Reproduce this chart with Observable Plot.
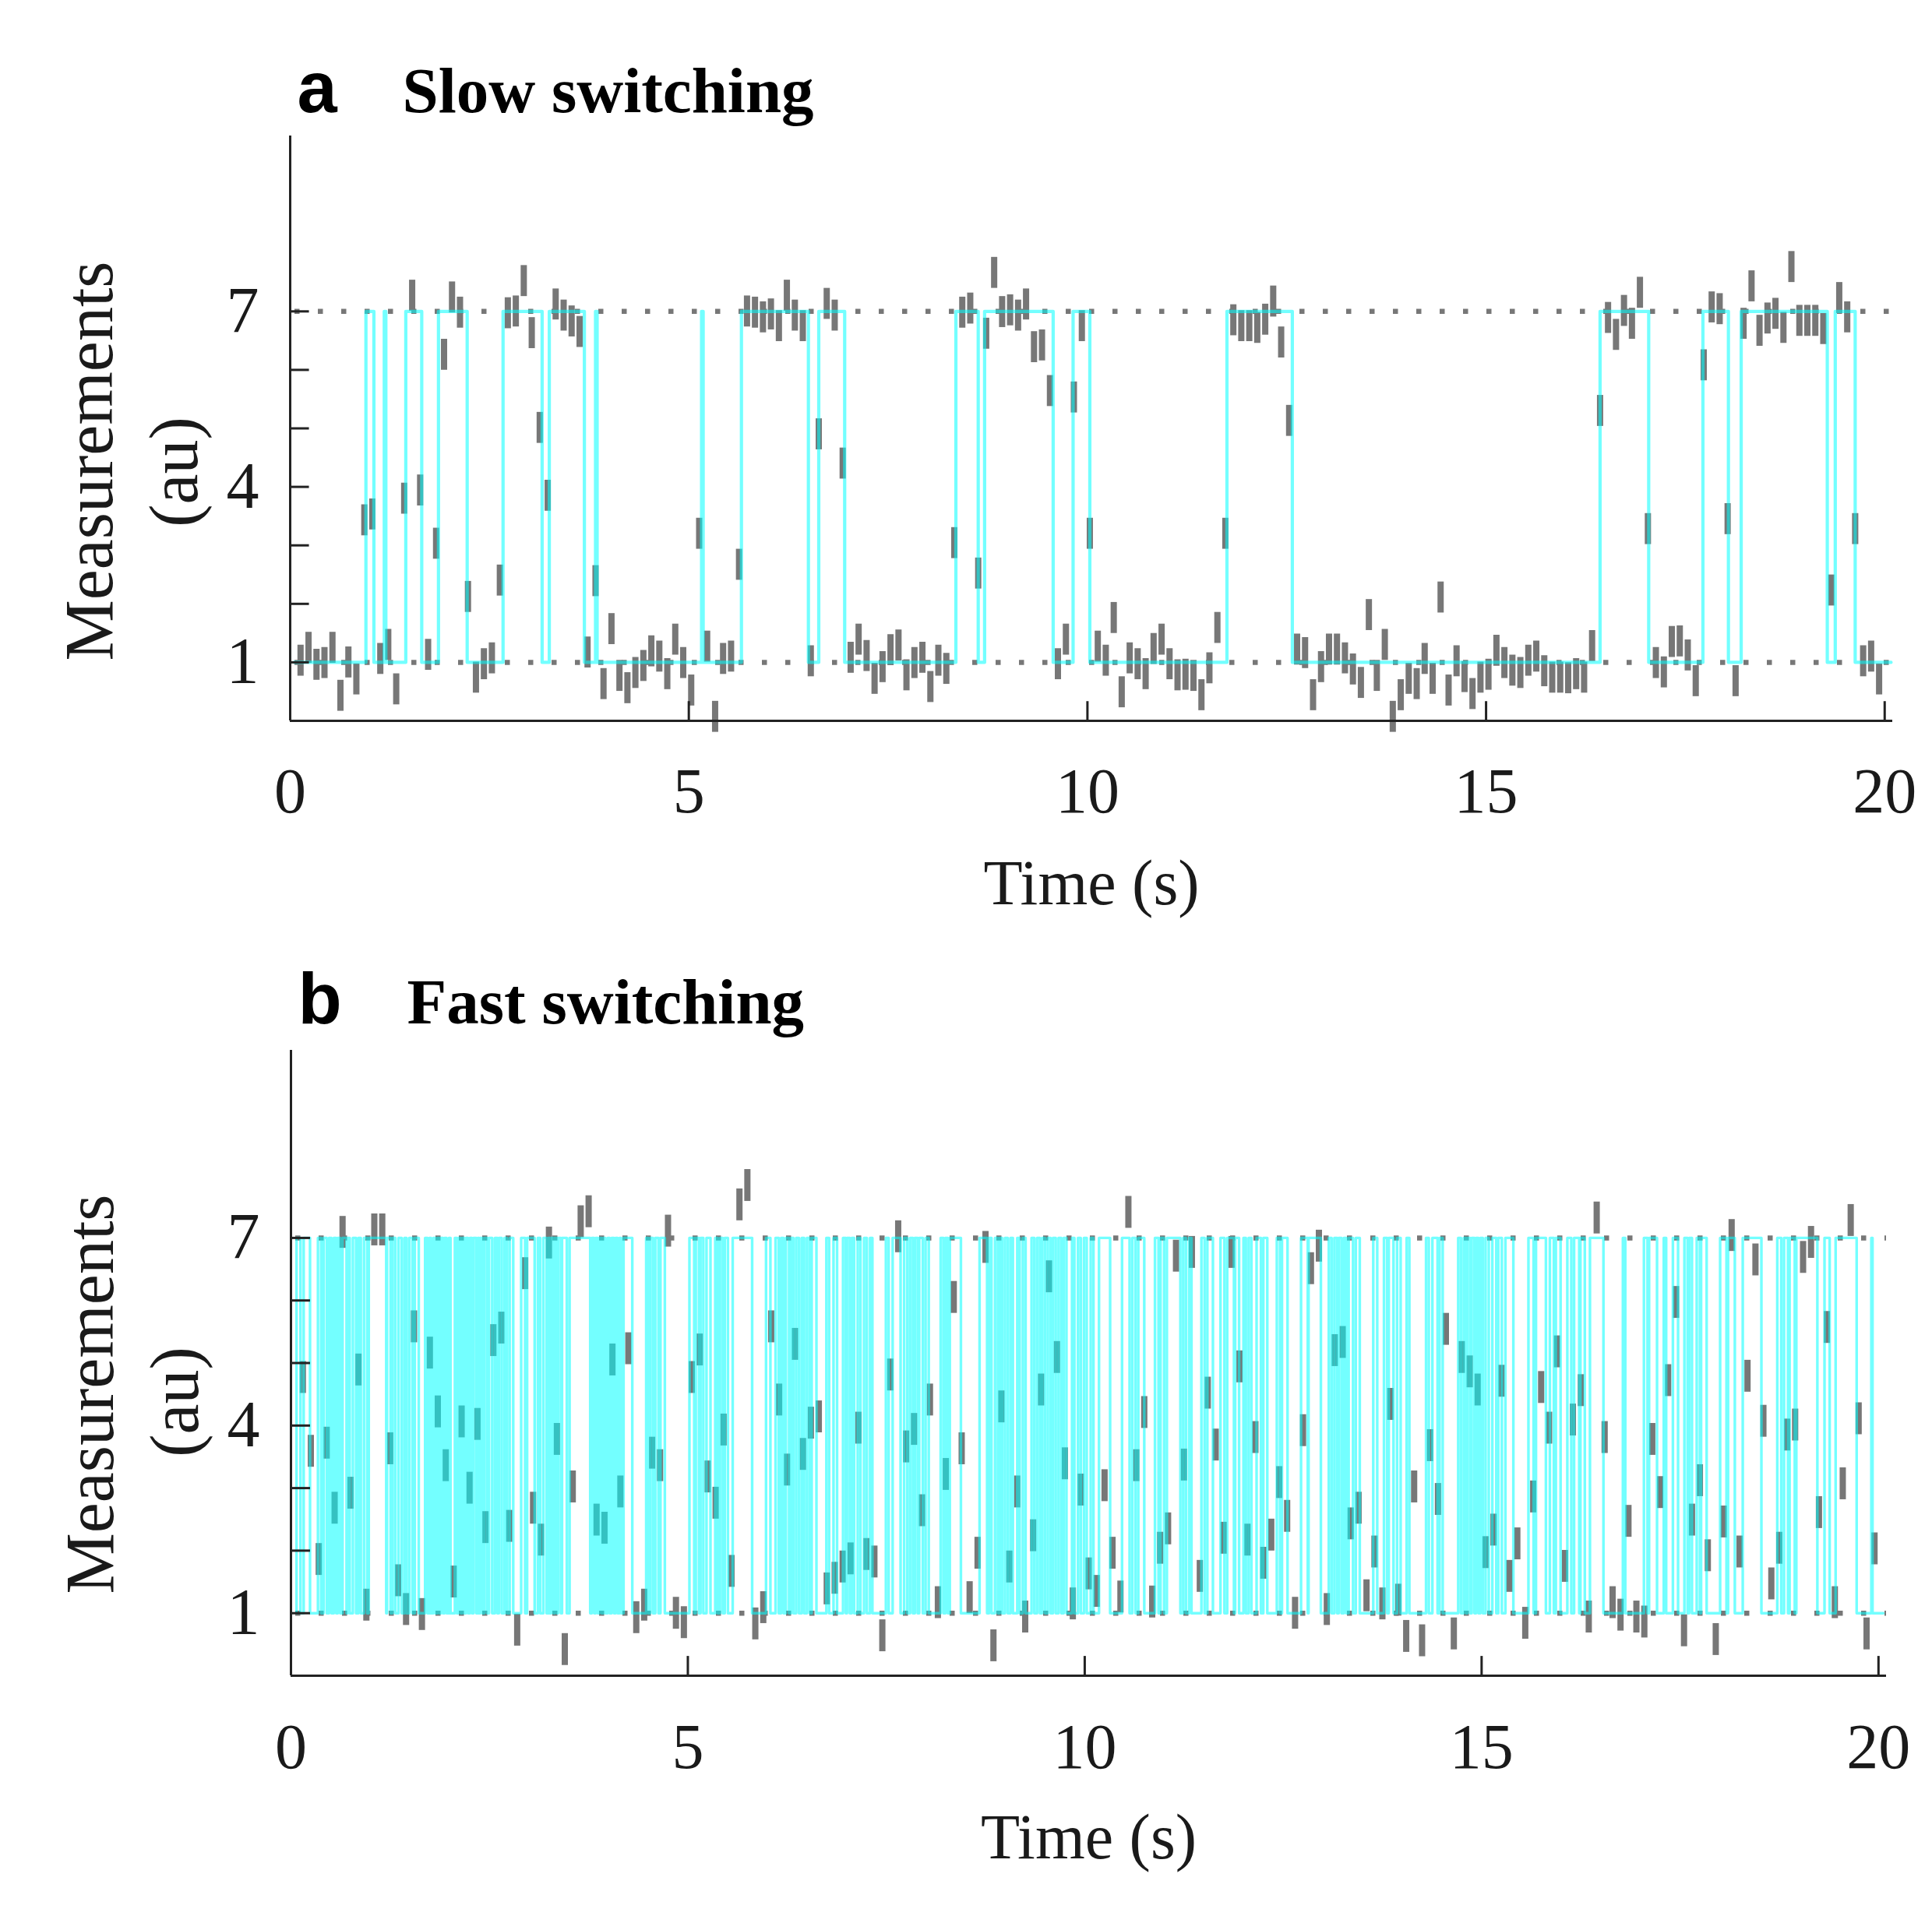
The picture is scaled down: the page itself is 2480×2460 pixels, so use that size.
<!DOCTYPE html>
<html>
<head>
<meta charset="utf-8">
<script src="https://cdn.jsdelivr.net/npm/d3@7"></script>
<script src="https://cdn.jsdelivr.net/npm/@observablehq/plot@0.6"></script>
<style>
  html, body { margin: 0; padding: 0; background: #ffffff; }
  #root { position: relative; width: 2480px; height: 2460px; background: #ffffff; overflow: hidden; }
  #root svg { position: absolute; left: 0; }
</style>
</head>
<body>
<div id="root"></div>
<script>
// ---------- shared ticks / levels ----------
const xTicks = [0, 5, 10, 15, 20];
const yTicks = [1, 2, 3, 4, 5, 6, 7];
const yTickLabels = [1, 4, 7];
const stateLevels = [1, 7];
const sampleStep = 0.1;          // s between measurements

// ---------- panel a : slow switching ----------
const titleA = "Slow switching";
const letterA = "a";
const firstTimeA = 0.13;
const measA = [
  1.03, 1.25, 0.96, 0.99, 1.25, 0.43, 1.00, 0.71, 3.43, 3.53,
  1.06, 1.30, 0.54, 3.80, 7.27, 3.94, 1.13, 3.03, 6.26, 7.24,
  6.98, 2.12, 0.74, 0.97, 1.07, 2.40, 6.97, 7.00, 7.52, 6.63,
  5.01, 3.85, 7.12, 6.93, 6.83, 6.65, 1.17, 2.39, 0.63, 1.57,
  0.77, 0.56, 0.82, 0.94, 1.19, 1.10, 0.80, 1.39, 0.99, 0.52,
  3.20, 1.27, 0.07, 1.06, 1.10, 2.67, 7.00, 6.98, 6.90, 6.95,
  6.75, 7.27, 6.93, 6.75, 1.02, 4.90, 7.13, 6.93, 4.40, 1.08,
  1.39, 1.11, 0.72, 0.92, 1.21, 1.29, 0.78, 0.99, 1.08, 0.58,
  1.03, 0.89, 3.04, 6.98, 7.05, 2.52, 6.62, 7.66, 6.99, 7.02,
  6.93, 7.12, 6.39, 6.42, 5.64, 0.97, 1.39, 5.53, 6.75, 3.20,
  1.27, 1.03, 1.76, 0.49, 1.07, 0.97, 0.80, 1.23, 1.39, 0.97,
  0.78, 0.79, 0.77, 0.44, 0.90, 1.59, 3.20, 6.85, 6.75, 6.75,
  6.72, 6.86, 7.17, 6.47, 5.13, 1.22, 1.16, 0.44, 0.92, 1.22,
  1.22, 1.07, 0.88, 0.65, 1.81, 0.77, 1.30, 0.07, 0.44, 0.72,
  0.63, 1.06, 0.72, 2.11, 0.52, 1.02, 0.75, 0.46, 0.74, 0.79,
  1.20, 0.99, 0.86, 0.82, 1.03, 1.10, 0.85, 0.74, 0.74, 0.73,
  0.80, 0.74, 1.28, 5.30, 6.89, 6.60, 7.01, 6.79, 7.32, 3.28,
  0.99, 0.83, 1.35, 1.36, 1.12, 0.68, 6.08, 7.07, 7.04, 3.45,
  0.68, 6.79, 7.43, 6.67, 6.88, 6.96, 6.72, 7.76, 6.84, 6.84,
  6.84, 6.70, 2.23, 7.23, 6.90, 3.28, 1.02, 1.10, 0.71
];
// fitted state path: starts in state 1, toggles 1 <-> 7 at each time
const stateStartA = 0.05, stateEndA = 20.08;
const switchTimesA = [
  0.95, 1.05, 1.18, 1.20, 1.45, 1.65, 1.86, 2.22, 2.67, 3.16,
  3.25, 3.69, 3.83, 3.85, 5.16, 5.18, 5.66, 6.50, 6.63, 6.955,
  8.35, 8.63, 8.71, 9.57, 9.82, 10.03, 11.75, 12.57, 16.43, 17.04,
  17.72, 18.04, 18.20, 19.28, 19.38, 19.63
];

// ---------- panel b : fast switching ----------
const titleB = "Fast switching";
const letterB = "b";
const firstTimeB = 0.15;
const measB = [
  4.77, 3.59, 1.86, 3.72, 2.68, 7.09, 2.92, 4.89, 1.13, 7.13,
  7.13, 3.63, 1.52, 1.06, 5.58, 0.98, 5.16, 4.22, 3.36, 1.50,
  4.06, 3.00, 4.02, 2.37, 5.36, 5.56, 2.39, 0.73, 6.43, 2.68,
  2.17, 6.92, 3.78, 0.42, 3.02, 7.26, 7.42, 2.49, 2.36, 5.05,
  2.94, 5.23, 0.93, 1.13, 3.56, 3.36, 7.11, 1.00, 0.85, 4.77,
  5.21, 3.18, 2.76, 3.93, 1.67, 7.53, 7.84, 0.83, 1.09, 5.58,
  4.41, 3.29, 5.30, 3.54, 4.04, 4.14, 1.39, 1.56, 1.74, 1.87,
  3.96, 1.94, 1.82, 0.64, 4.81, 7.02, 3.66, 3.94, 2.64, 4.41,
  1.17, 3.22, 6.05, 3.63, 1.25, 1.96, 6.85, 0.48, 4.30, 1.74,
  2.94, 0.94, 2.24, 4.57, 6.38, 5.09, 3.39, 1.15, 2.97, 1.63,
  1.35, 3.04, 1.96, 1.26, 7.41, 3.36, 4.21, 1.18, 2.04, 2.35,
  6.71, 3.37, 6.77, 1.59, 4.52, 3.69, 2.20, 6.77, 4.94, 2.17,
  3.81, 1.80, 2.25, 3.09, 2.55, 1.00, 3.92, 6.51, 6.87, 1.06,
  5.20, 5.33, 2.43, 2.68, 1.28, 1.98, 1.15, 4.34, 1.21, 0.63,
  3.02, 0.56, 3.68, 2.82, 5.54, 0.67, 5.09, 4.86, 4.57, 1.97,
  2.33, 4.71, 1.59, 2.11, 0.84, 2.86, 4.61, 3.96, 5.18, 1.75,
  4.09, 4.56, 0.94, 7.32, 3.81, 1.17, 0.97, 2.47, 0.94, 0.86,
  3.78, 2.93, 4.72, 5.97, 0.72, 2.49, 3.12, 1.92, 0.58, 2.46,
  7.04, 1.98, 4.79, 6.65, 4.07, 1.47, 2.04, 3.85, 4.01, 6.69,
  6.93, 2.61, 5.57, 1.17, 3.07, 7.28, 4.11, 0.67, 2.03
];
const stateStartB = 0.07, stateEndB = 20.06;
const switchTimesB = [
  0.07,0.12, 0.16,0.24, 0.34,0.38, 0.41,0.45, 0.48,0.51, 0.54,0.57, 0.59,0.62, 0.65,0.70,
  0.715,0.74, 0.78,0.82, 0.85,0.88, 0.92,0.96, 0.98,1.20, 1.21,1.255, 1.28,1.315, 1.355,1.395,
  1.43,1.455, 1.49,1.53, 1.56,1.61, 1.69,1.72, 1.745,1.765, 1.795,1.82, 1.845,1.87, 1.89,1.915,
  1.935,1.96, 1.99,2.01, 2.065,2.09, 2.11,2.14, 2.16,2.185, 2.205,2.23, 2.255,2.28, 2.30,2.335,
  2.355,2.37, 2.385,2.41, 2.435,2.47, 2.495,2.535, 2.57,2.60, 2.62,2.655, 2.69,2.72, 2.755,2.80,
  2.90,2.95, 2.975,3.07, 3.11,3.14, 3.18,3.22, 3.245,3.265, 3.28,3.31, 3.32,3.35, 3.365,3.40,
  3.415,3.475, 3.51,3.77, 3.79,3.82, 3.84,3.865, 3.885,3.915, 3.935,3.96, 3.99,4.015, 4.04,4.07,
  4.09,4.115, 4.14,4.16, 4.19,4.30, 4.475,4.50, 4.525,4.56, 4.59,4.63, 4.655,4.71, 5.02,5.08,
  5.10,5.14, 5.16,5.195, 5.235,5.285, 5.345,5.375, 5.405,5.44, 5.465,5.505, 5.565,5.81, 5.985,6.04,
  6.105,6.145, 6.175,6.205, 6.235,6.275, 6.30,6.33, 6.365,6.40, 6.435,6.465, 6.50,6.535, 6.56,6.62,
  6.745,6.78, 6.835,6.88, 6.955,6.99, 7.005,7.04, 7.065,7.095, 7.14,7.175, 7.22,7.255, 7.295,7.325,
  7.495,7.53, 7.58,7.68, 7.725,7.765, 7.80,7.835, 7.86,7.895, 7.915,7.96, 7.995,8.035, 8.185,8.22,
  8.245,8.275, 8.30,8.44, 8.675,8.77, 8.795,8.825, 8.87,8.905, 8.93,8.96, 8.995,9.03, 9.065,9.095,
  9.15,9.18, 9.22,9.255, 9.33,9.365, 9.40,9.435, 9.465,9.50, 9.535,9.57, 9.60,9.635, 9.67,9.705,
  9.735,9.77, 9.84,9.87, 9.915,9.95, 9.99,10.025, 10.075,10.11, 10.18,10.32, 10.47,10.565, 10.60,10.64,
  10.675,10.75, 10.885,10.93, 10.955,11.00, 11.035,11.205, 11.24,11.275, 11.315,11.345, 11.47,11.51, 11.545,11.615,
  11.71,11.76, 11.795,11.88, 11.895,11.945, 12.00,12.03, 12.065,12.10, 12.165,12.22, 12.25,12.30, 12.42,12.46,
  12.485,12.555, 12.725,12.81, 12.82,12.975, 13.075,13.11, 13.145,13.18, 13.20,13.235, 13.265,13.295, 13.325,13.38,
  13.415,13.465, 13.635,13.685, 13.77,13.81, 13.83,13.89, 13.935,13.98, 14.055,14.09, 14.30,14.335, 14.38,14.445,
  14.47,14.51, 14.705,14.74, 14.775,14.805, 14.82,14.855, 14.875,14.91, 14.93,14.96, 14.985,15.015, 15.05,15.09,
  15.135,15.185, 15.21,15.255, 15.30,15.40, 15.59,15.655, 15.685,15.81, 15.86,15.91, 15.935,15.995, 16.08,16.13,
  16.165,16.23, 16.245,16.30, 16.365,16.535, 16.78,16.81, 17.045,17.09, 17.11,17.21, 17.295,17.325, 17.41,17.475,
  17.555,17.595, 17.615,17.65, 17.71,17.75, 17.765,17.835, 18.005,18.085, 18.105,18.19, 18.29,18.525, 18.725,18.775,
  18.81,18.86, 18.88,18.945, 18.965,19.23, 19.32,19.385, 19.46,19.725, 19.91,19.925
];

// ---------- helpers ----------
function statePath(start, end, switches) {
  let s = 1;
  const pts = [{t: start, v: s}];
  for (const x of switches) { s = (s === 1 ? 7 : 1); pts.push({t: x, v: s}); }
  pts.push({t: end, v: s});
  return pts;
}

const SERIF = "'Liberation Serif', 'Times New Roman', Times, serif";
const SANS = "'Liberation Sans', Arial, Helvetica, sans-serif";
const INK = "#1a1a1a";

function panel(o) {
  const meas = o.meas.map((v, i) => ({t: o.firstTime + i * sampleStep, v}));
  const path = statePath(o.stateStart, o.stateEnd, o.switches);
  return Plot.plot({
    width: 2480,
    height: o.height,
    marginTop: o.mT, marginBottom: o.mB, marginLeft: o.mL, marginRight: o.mR,
    x: {domain: [0, 20.1], axis: null},
    y: {domain: [0, 10], axis: null},
    style: {background: "#ffffff", fontFamily: SERIF, color: INK, overflow: "visible"},
    marks: [
      // dotted state levels
      Plot.ruleY(stateLevels, {stroke: "#777777", strokeWidth: 6.5, strokeDasharray: "6.5,23.5", strokeDashoffset: 24}),
      // measurements
      Plot.ruleX(meas, {x: "t", y1: d => d.v - o.half, y2: d => d.v + o.half, stroke: "#777777", strokeWidth: 8}),
      // inferred state trajectory
      Plot.line(path, {x: "t", y: "v", curve: "step-after", stroke: "#00ffff", strokeOpacity: 0.55, strokeWidth: o.cyanW}),
      // axes
      Plot.ruleY([0], {stroke: "#222", strokeWidth: 3}),
      Plot.ruleX([0], {stroke: "#222", strokeWidth: 3}),
      Plot.ruleX(xTicks, {y1: 0, y2: o.xTickLen, stroke: "#222", strokeWidth: 3}),
      Plot.ruleY(yTicks, {x1: 0, x2: o.yTickLen, stroke: "#222", strokeWidth: 3}),
      Plot.text(xTicks, {x: d => d, text: d => String(d), frameAnchor: "bottom", dy: o.xLabDy, lineAnchor: "middle", textAnchor: "middle", fontSize: 82, fill: INK}),
      Plot.text(yTickLabels, {y: d => d, text: d => String(d), frameAnchor: "left", dx: -40, textAnchor: "end", lineAnchor: "middle", fontSize: 84, fill: INK}),
      Plot.text(["Time (s)"], {text: d => d, frameAnchor: "bottom", dy: o.xTitleDy, lineAnchor: "bottom", textAnchor: "middle", fontSize: 82, fill: INK}),
      Plot.text(["Measurements"], {text: d => d, frameAnchor: "left", rotate: -90, dx: -229, dy: o.measDy, lineAnchor: "bottom", textAnchor: "middle", fontSize: 88, fill: INK}),
      Plot.text(["(au)"], {text: d => d, frameAnchor: "left", rotate: -90, dx: -120, dy: o.auDy, lineAnchor: "bottom", textAnchor: "middle", fontSize: 88, fill: INK}),
      // panel title
      Plot.text([o.letter], {text: d => d, frameAnchor: "top-left", dx: 9, dy: o.titleDy, lineAnchor: "bottom", textAnchor: "start", fontSize: 92, fontWeight: "bold", fontFamily: SANS, fill: "#000"}),
      Plot.text([o.title], {text: d => d, frameAnchor: "top-left", dx: o.titleDx, dy: o.titleDy, lineAnchor: "bottom", textAnchor: "start", fontSize: 83, fontWeight: "bold", fill: "#000"})
    ]
  });
}

const root = document.getElementById("root");

const svgA = panel({
  meas: measA, firstTime: firstTimeA, stateStart: stateStartA, stateEnd: stateEndA, switches: switchTimesA,
  height: 1230, mT: 174, mB: 305, mL: 372, mR: 51,
  half: 0.265, cyanW: 4.2, xTickLen: 0.33, yTickLen: 0.24,
  xLabDy: 91, xTitleDy: 235, measDy: 42, auDy: 56,
  letter: letterA, title: titleA, titleDx: 144, titleDy: -31
});
svgA.style.top = "0px";
root.appendChild(svgA);

const svgB = panel({
  meas: measB, firstTime: firstTimeB, stateStart: stateStartB, stateEnd: stateEndB, switches: switchTimesB,
  height: 1230, mT: 118, mB: 309, mL: 373, mR: 59,
  half: 0.255, cyanW: 3.4, xTickLen: 0.31, yTickLen: 0.245,
  xLabDy: 92, xTitleDy: 234, measDy: 40, auDy: 50,
  letter: letterB, title: titleB, titleDx: 149, titleDy: -35
});
svgB.style.top = "1230px";
root.appendChild(svgB);
</script>
</body>
</html>
